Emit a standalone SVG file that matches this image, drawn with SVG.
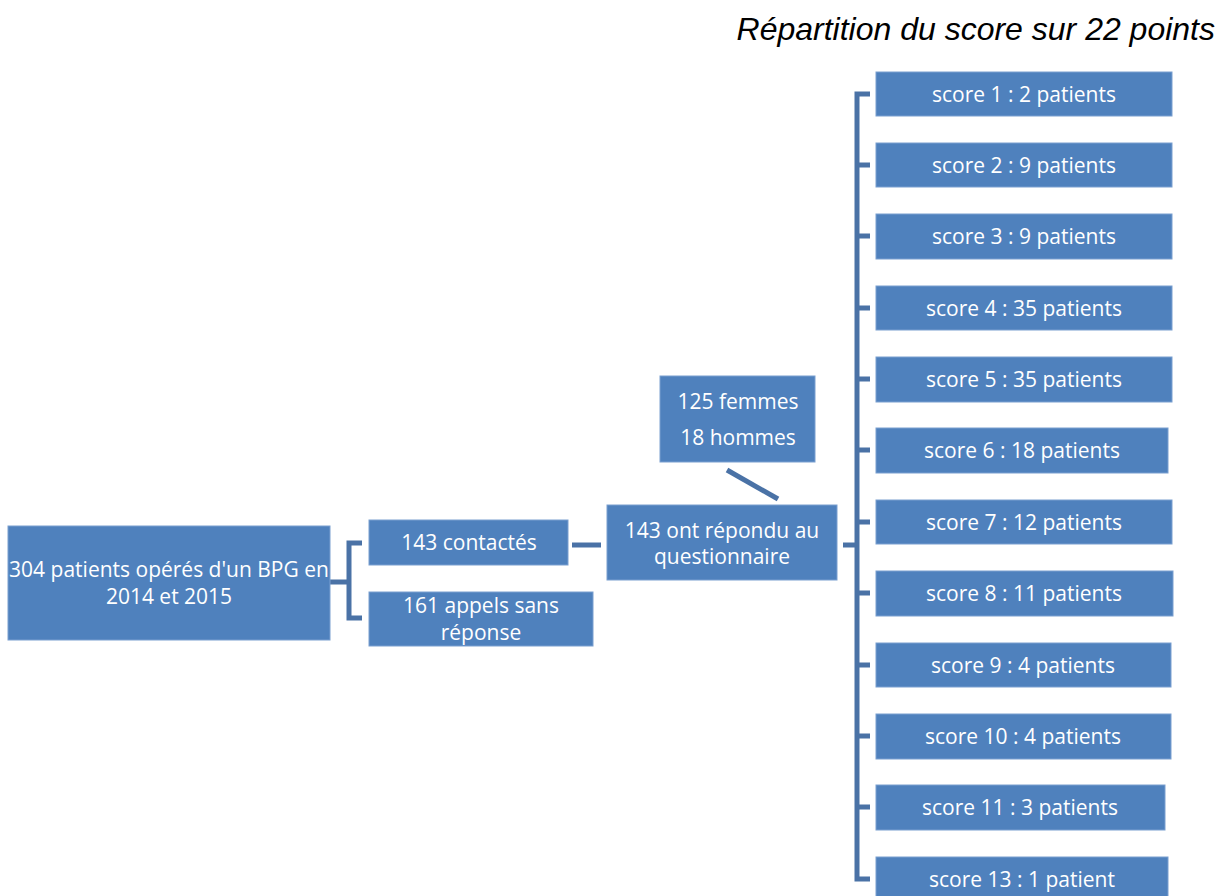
<svg xmlns="http://www.w3.org/2000/svg" width="1225" height="896" viewBox="0 0 1225 896">
<style>
.box{fill:#4f81bd;stroke:#7a9fd0;stroke-width:1}
.t{font-family:"Open Sans","Liberation Sans",sans-serif;font-size:21px;fill:#ffffff;text-anchor:middle}
.c{fill:none;stroke:#4a72a6;stroke-width:5}
.title{font-family:"Liberation Sans",Arial,sans-serif;font-size:32px;font-style:italic;fill:#000}
</style>
<rect width="1225" height="896" fill="#ffffff"/>
<text class="title" x="1215" y="40" text-anchor="end">Répartition du score sur 22 points</text>
<g id="connectors">
<path class="c" d="M330 582H349M362 543H349V618H362"/>
<path class="c" d="M572 545H601"/>
<path class="c" d="M727 470L778 499"/>
<path class="c" d="M843 545H857"/>
<path class="c" d="M870 94H857V879H870M857 165H870M857 236H870M857 308H870M857 379H870M857 450H870M857 522H870M857 593H870M857 665H870M857 736H870M857 807H870"/>
</g>
<g id="n-main"><rect class="box" x="8" y="526" width="322" height="114"/><text class="t" x="169" y="577">304 patients opérés d'un BPG en</text><text class="t" x="169" y="604">2014 et 2015</text></g>
<g id="n-contactes"><rect class="box" x="369" y="520" width="199" height="45"/><text class="t" x="469" y="550">143 contactés</text></g>
<g id="n-sans"><rect class="box" x="369" y="592" width="224" height="54"/><text class="t" x="481" y="613">161 appels sans</text><text class="t" x="481" y="640">réponse</text></g>
<g id="n-repondu"><rect class="box" x="607" y="505" width="230" height="75"/><text class="t" x="722" y="538">143 ont répondu au</text><text class="t" x="722" y="564">questionnaire</text></g>
<g id="n-sexe"><rect class="box" x="660" y="376" width="155" height="86"/><text class="t" x="738" y="409">125 femmes</text><text class="t" x="738" y="445">18 hommes</text></g>
<g id="s1"><rect class="box" x="876" y="72" width="296" height="44"/><text class="t" x="1024" y="102">score 1 : 2 patients</text></g>
<g id="s2"><rect class="box" x="876" y="143" width="296" height="44"/><text class="t" x="1024" y="173">score 2 : 9 patients</text></g>
<g id="s3"><rect class="box" x="876" y="214" width="296" height="45"/><text class="t" x="1024" y="244">score 3 : 9 patients</text></g>
<g id="s4"><rect class="box" x="876" y="286" width="296" height="44"/><text class="t" x="1024" y="316">score 4 : 35 patients</text></g>
<g id="s5"><rect class="box" x="876" y="357" width="296" height="45"/><text class="t" x="1024" y="387">score 5 : 35 patients</text></g>
<g id="s6"><rect class="box" x="876" y="428" width="292" height="45"/><text class="t" x="1022" y="458">score 6 : 18 patients</text></g>
<g id="s7"><rect class="box" x="876" y="500" width="296" height="44"/><text class="t" x="1024" y="530">score 7 : 12 patients</text></g>
<g id="s8"><rect class="box" x="876" y="571" width="297" height="45"/><text class="t" x="1024" y="601">score 8 : 11 patients</text></g>
<g id="s9"><rect class="box" x="876" y="643" width="295" height="44"/><text class="t" x="1023" y="673">score 9 : 4 patients</text></g>
<g id="s10"><rect class="box" x="876" y="714" width="295" height="45"/><text class="t" x="1023" y="744">score 10 : 4 patients</text></g>
<g id="s11"><rect class="box" x="876" y="785" width="289" height="45"/><text class="t" x="1020" y="815">score 11 : 3 patients</text></g>
<g id="s13"><rect class="box" x="876" y="857" width="292" height="45"/><text class="t" x="1022" y="887">score 13 : 1 patient</text></g>
</svg>
